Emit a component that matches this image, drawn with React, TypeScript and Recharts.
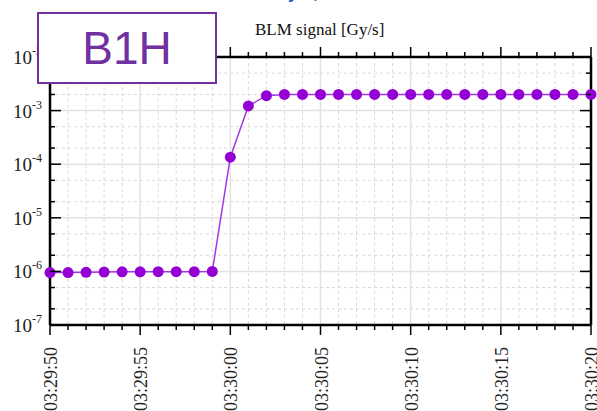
import React from 'react';
import { LineChart, Line, XAxis, YAxis, CartesianGrid } from 'recharts';

// one sample per second
const TIMES = [
    '03:29:50', '03:29:51', '03:29:52', '03:29:53', '03:29:54', '03:29:55', '03:29:56', '03:29:57',
    '03:29:58', '03:29:59', '03:30:00', '03:30:01', '03:30:02', '03:30:03', '03:30:04', '03:30:05',
    '03:30:06', '03:30:07', '03:30:08', '03:30:09', '03:30:10', '03:30:11', '03:30:12', '03:30:13',
    '03:30:14', '03:30:15', '03:30:16', '03:30:17', '03:30:18', '03:30:19', '03:30:20',
];

// BLM signal in Gy/s
const SIGNAL = [
    0.95e-6, 0.95e-6, 0.96e-6, 0.97e-6, 0.98e-6, 0.98e-6, 0.99e-6, 0.99e-6, 0.99e-6, 1.0e-6,
    1.35e-4, 1.22e-3, 1.9e-3, 2.0e-3, 2.0e-3, 2.0e-3, 2.0e-3, 2.0e-3, 2.0e-3, 2.0e-3,
    2.0e-3, 2.0e-3, 2.0e-3, 2.0e-3, 2.0e-3, 2.0e-3, 2.0e-3, 2.0e-3, 2.0e-3, 2.0e-3, 2.0e-3,
];

const TIME_LABELS = ['03:29:50', '03:29:55', '03:30:00', '03:30:05', '03:30:10', '03:30:15', '03:30:20'];
const DECADES = [1e-7, 1e-6, 1e-5, 1e-4, 1e-3, 1e-2];
const MINOR_STEPS = [2, 5];

const SERIF = '"Liberation Serif", "Times New Roman", serif';
const SANS = '"Liberation Sans", Arial, sans-serif';
const PURPLE = '#9400D3';

const toSec = (s: string) => {
    const [h, m, x] = s.split(':').map(Number);
    return h * 3600 + m * 60 + x;
};
const T0 = toSec(TIMES[0]);

const data = TIMES.map((t, i) => ({ t: toSec(t) - T0, v: SIGNAL[i] }));
const majorX = TIME_LABELS.map((l) => toSec(l) - T0);
const allX = data.map((d) => d.t);
const minorX = allX.filter((x) => !majorX.includes(x));
const minorY = DECADES.slice(0, -1).flatMap((d) => MINOR_STEPS.map((k) => k * d));
const allY = [...DECADES, ...minorY].sort((a, b) => a - b);

const isDecade = (v: number) => Math.abs(Math.log10(v) - Math.round(Math.log10(v))) < 1e-6;

const labelStyle = { fontFamily: SERIF, fill: '#222' };

const LeftTick = ({ x, y, payload }: any) => {
    const major = isDecade(payload.value);
    return (
        <g>
            <line x1={x} x2={x + (major ? 11 : 5)} y1={y} y2={y} stroke="#000" strokeWidth={1.5} />
            {major && (
                <text x={x - 8} y={y + 7} textAnchor="end" style={{ ...labelStyle, fontSize: 19 }}>
                    10
                    <tspan dy={-9} style={{ fontSize: 12 }}>{String(Math.round(Math.log10(payload.value)))}</tspan>
                </text>
            )}
        </g>
    );
};

const RightTick = ({ x, y, payload }: any) => {
    const major = isDecade(payload.value);
    return <line x1={x} x2={x - (major ? 11 : 5)} y1={y} y2={y} stroke="#000" strokeWidth={1.5} />;
};

const TopTick = ({ x, y, payload }: any) => {
    const major = majorX.includes(payload.value);
    return <line x1={x} x2={x} y1={y} y2={y - (major ? 10 : 5)} stroke="#000" strokeWidth={1.5} />;
};

const BottomTick = ({ x, y, payload }: any) => {
    const idx = majorX.indexOf(payload.value);
    const major = idx >= 0;
    const tx = x + 7;
    const ty = y + 22;
    return (
        <g>
            <line x1={x} x2={x} y1={y} y2={y + (major ? 10 : 5)} stroke="#000" strokeWidth={1.5} />
            {major && (
                <text
                    x={tx}
                    y={ty}
                    transform={`rotate(-90 ${tx} ${ty})`}
                    textAnchor="end"
                    style={{ ...labelStyle, fontSize: 18 }}
                >
                    {TIME_LABELS[idx]}
                </text>
            )}
        </g>
    );
};

const frame = { stroke: '#000', strokeWidth: 2.5 };

const App: React.FC = () => {
    return (
        <div style={{ position: 'absolute', left: 0, top: 0, width: 597, height: 411, background: '#fff', overflow: 'hidden' }}>
            <div
                style={{
                    position: 'absolute', left: 262, top: -18, fontFamily: SANS, fontWeight: 'bold',
                    fontSize: 18, color: '#1560bd', whiteSpace: 'nowrap',
                }}
            >
                July 4, 2018
            </div>
            <div
                style={{
                    position: 'absolute', left: 255, top: 20, fontFamily: SERIF, fontSize: 17,
                    color: '#111', whiteSpace: 'nowrap',
                }}
            >
                BLM signal [Gy/s]
            </div>
            <div style={{ position: 'absolute', left: 0, top: 0 }}>
                <LineChart width={597} height={411} data={data} margin={{ top: 0, right: 0, bottom: 0, left: 0 }}>
                    <CartesianGrid
                        xAxisId="bottom"
                        yAxisId="left"
                        verticalValues={minorX}
                        horizontalValues={minorY}
                        stroke="#d8d8d8"
                        strokeDasharray="3 3"
                    />
                    <CartesianGrid
                        xAxisId="bottom"
                        yAxisId="left"
                        verticalValues={majorX}
                        horizontalValues={DECADES}
                        stroke="#e2e2e2"
                        strokeWidth={1.5}
                    />
                    <XAxis
                        xAxisId="bottom"
                        orientation="bottom"
                        type="number"
                        dataKey="t"
                        domain={[0, 30]}
                        ticks={allX}
                        interval={0}
                        height={86}
                        tickSize={0}
                        tickMargin={0}
                        tickLine={false}
                        axisLine={frame}
                        tick={(p: any) => <BottomTick {...p} />}
                    />
                    <XAxis
                        xAxisId="top"
                        orientation="top"
                        type="number"
                        dataKey="t"
                        domain={[0, 30]}
                        ticks={allX}
                        interval={0}
                        height={57}
                        tickSize={0}
                        tickMargin={0}
                        tickLine={false}
                        axisLine={frame}
                        tick={(p: any) => <TopTick {...p} />}
                    />
                    <YAxis
                        yAxisId="left"
                        orientation="left"
                        scale="log"
                        domain={[1e-7, 1e-2]}
                        allowDataOverflow
                        ticks={allY}
                        interval={0}
                        width={50}
                        tickSize={0}
                        tickMargin={0}
                        tickLine={false}
                        axisLine={frame}
                        tick={(p: any) => <LeftTick {...p} />}
                    />
                    <YAxis
                        yAxisId="right"
                        orientation="right"
                        scale="log"
                        domain={[1e-7, 1e-2]}
                        allowDataOverflow
                        ticks={allY}
                        interval={0}
                        width={6}
                        tickSize={0}
                        tickMargin={0}
                        tickLine={false}
                        axisLine={frame}
                        tick={(p: any) => <RightTick {...p} />}
                    />
                    <Line
                        xAxisId="bottom"
                        yAxisId="left"
                        type="linear"
                        dataKey="v"
                        stroke="#a236e6"
                        strokeWidth={1.5}
                        dot={{ r: 5.5, fill: PURPLE, stroke: 'none' }}
                        activeDot={false}
                        isAnimationActive={false}
                    />
                </LineChart>
            </div>
            <div
                style={{
                    position: 'absolute', left: 37, top: 12, width: 180, height: 72, boxSizing: 'border-box',
                    border: '2px solid #7030a0', background: '#fff', color: '#7030a0', fontFamily: SANS,
                    fontSize: 46, display: 'flex', alignItems: 'center', justifyContent: 'center',
                }}
            >
                B1H
            </div>
        </div>
    );
};

export default App;
